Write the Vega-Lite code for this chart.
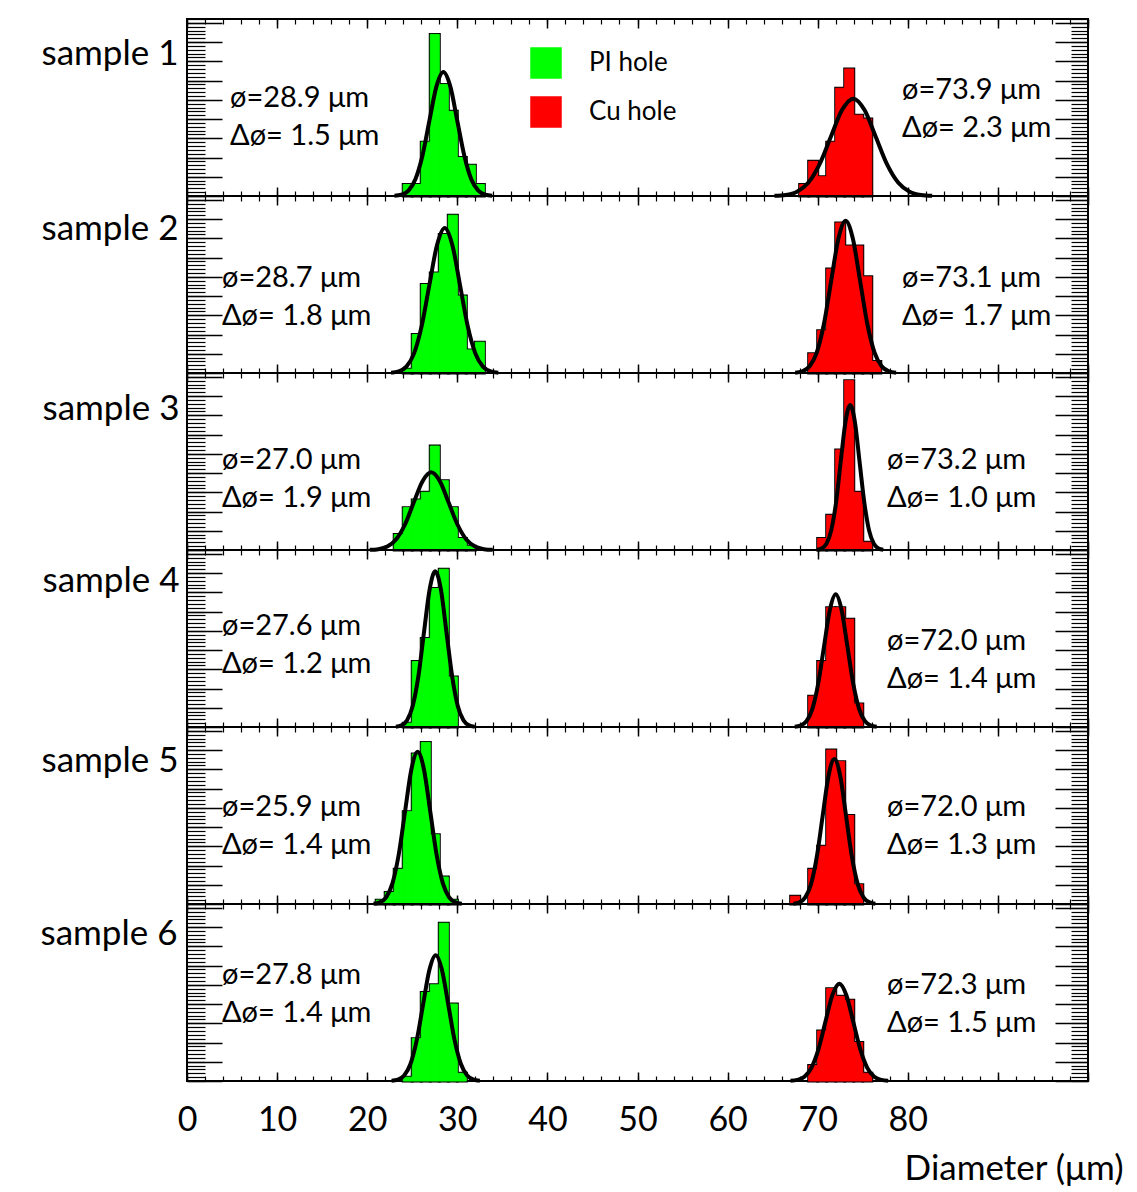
{
"$schema": "https://vega.github.io/schema/vega-lite/v6.json",
"background": "white",
"padding": {"left": 39, "top": 17, "right": 5, "bottom": 5},
"spacing": 0,
"bounds": "flush",
"resolve": {"scale": {"color": "independent", "stroke": "independent"}},
"config": {
  "font": "Lato",
  "view": {"stroke": "black", "strokeWidth": 2},
  "axis": {"domain": false, "grid": false, "tickColor": "black", "tickWidth": 1.2, "labels": false, "labelColor": "black", "titleColor": "black", "labelFont": "Lato", "titleFont": "Lato", "titleFontWeight": "normal"},
  "text": {"font": "Lato", "fontSize": 29, "color": "black"}
},
"datasets": {
  "bars": [
    {"s":1,"h":"PI hole","lo":24,"hi":25,"n":3},{"s":1,"h":"PI hole","lo":25,"hi":26,"n":3},{"s":1,"h":"PI hole","lo":26,"hi":27,"n":14},{"s":1,"h":"PI hole","lo":27,"hi":28,"n":42},{"s":1,"h":"PI hole","lo":28,"hi":29,"n":29},{"s":1,"h":"PI hole","lo":29,"hi":30,"n":22},{"s":1,"h":"PI hole","lo":30,"hi":31,"n":10},{"s":1,"h":"PI hole","lo":31,"hi":32,"n":8},{"s":1,"h":"PI hole","lo":32,"hi":33,"n":3},
    {"s":1,"h":"Cu hole","lo":68,"hi":69,"n":3},{"s":1,"h":"Cu hole","lo":69,"hi":70,"n":9},{"s":1,"h":"Cu hole","lo":70,"hi":71,"n":5},{"s":1,"h":"Cu hole","lo":71,"hi":72,"n":14},{"s":1,"h":"Cu hole","lo":72,"hi":73,"n":28},{"s":1,"h":"Cu hole","lo":73,"hi":74,"n":33},{"s":1,"h":"Cu hole","lo":74,"hi":75,"n":21},{"s":1,"h":"Cu hole","lo":75,"hi":76,"n":20},
    {"s":2,"h":"PI hole","lo":24,"hi":25,"n":1},{"s":2,"h":"PI hole","lo":25,"hi":26,"n":10},{"s":2,"h":"PI hole","lo":26,"hi":27,"n":23},{"s":2,"h":"PI hole","lo":27,"hi":28,"n":26},{"s":2,"h":"PI hole","lo":28,"hi":29,"n":36},{"s":2,"h":"PI hole","lo":29,"hi":30,"n":41},{"s":2,"h":"PI hole","lo":30,"hi":31,"n":20},{"s":2,"h":"PI hole","lo":31,"hi":32,"n":6},{"s":2,"h":"PI hole","lo":32,"hi":33,"n":8},
    {"s":2,"h":"Cu hole","lo":69,"hi":70,"n":5},{"s":2,"h":"Cu hole","lo":70,"hi":71,"n":11},{"s":2,"h":"Cu hole","lo":71,"hi":72,"n":27},{"s":2,"h":"Cu hole","lo":72,"hi":73,"n":39},{"s":2,"h":"Cu hole","lo":73,"hi":74,"n":33},{"s":2,"h":"Cu hole","lo":74,"hi":75,"n":33},{"s":2,"h":"Cu hole","lo":75,"hi":76,"n":25},{"s":2,"h":"Cu hole","lo":76,"hi":77,"n":3},
    {"s":3,"h":"PI hole","lo":23,"hi":24,"n":4},{"s":3,"h":"PI hole","lo":24,"hi":25,"n":11},{"s":3,"h":"PI hole","lo":25,"hi":26,"n":13},{"s":3,"h":"PI hole","lo":26,"hi":27,"n":15},{"s":3,"h":"PI hole","lo":27,"hi":28,"n":27},{"s":3,"h":"PI hole","lo":28,"hi":29,"n":18},{"s":3,"h":"PI hole","lo":29,"hi":30,"n":11},{"s":3,"h":"PI hole","lo":30,"hi":31,"n":3},{"s":3,"h":"PI hole","lo":31,"hi":32,"n":1},
    {"s":3,"h":"Cu hole","lo":70,"hi":71,"n":3},{"s":3,"h":"Cu hole","lo":71,"hi":72,"n":9},{"s":3,"h":"Cu hole","lo":72,"hi":73,"n":26},{"s":3,"h":"Cu hole","lo":73,"hi":74,"n":44},{"s":3,"h":"Cu hole","lo":74,"hi":75,"n":15},{"s":3,"h":"Cu hole","lo":75,"hi":76,"n":2},
    {"s":4,"h":"PI hole","lo":24,"hi":25,"n":1},{"s":4,"h":"PI hole","lo":25,"hi":26,"n":17},{"s":4,"h":"PI hole","lo":26,"hi":27,"n":23},{"s":4,"h":"PI hole","lo":27,"hi":28,"n":36},{"s":4,"h":"PI hole","lo":28,"hi":29,"n":41},{"s":4,"h":"PI hole","lo":29,"hi":30,"n":13},
    {"s":4,"h":"Cu hole","lo":69,"hi":70,"n":8},{"s":4,"h":"Cu hole","lo":70,"hi":71,"n":17},{"s":4,"h":"Cu hole","lo":71,"hi":72,"n":31},{"s":4,"h":"Cu hole","lo":72,"hi":73,"n":31},{"s":4,"h":"Cu hole","lo":73,"hi":74,"n":28},{"s":4,"h":"Cu hole","lo":74,"hi":75,"n":6},
    {"s":5,"h":"PI hole","lo":21,"hi":22,"n":1},{"s":5,"h":"PI hole","lo":22,"hi":23,"n":3},{"s":5,"h":"PI hole","lo":23,"hi":24,"n":9},{"s":5,"h":"PI hole","lo":24,"hi":25,"n":24},{"s":5,"h":"PI hole","lo":25,"hi":26,"n":39},{"s":5,"h":"PI hole","lo":26,"hi":27,"n":42},{"s":5,"h":"PI hole","lo":27,"hi":28,"n":18},{"s":5,"h":"PI hole","lo":28,"hi":29,"n":7},{"s":5,"h":"PI hole","lo":29,"hi":30,"n":1},
    {"s":5,"h":"Cu hole","lo":67,"hi":68,"n":2},{"s":5,"h":"Cu hole","lo":69,"hi":70,"n":9},{"s":5,"h":"Cu hole","lo":70,"hi":71,"n":15},{"s":5,"h":"Cu hole","lo":71,"hi":72,"n":40},{"s":5,"h":"Cu hole","lo":72,"hi":73,"n":37},{"s":5,"h":"Cu hole","lo":73,"hi":74,"n":23},{"s":5,"h":"Cu hole","lo":74,"hi":75,"n":5},
    {"s":6,"h":"PI hole","lo":24,"hi":25,"n":1},{"s":6,"h":"PI hole","lo":25,"hi":26,"n":11},{"s":6,"h":"PI hole","lo":26,"hi":27,"n":23},{"s":6,"h":"PI hole","lo":27,"hi":28,"n":25},{"s":6,"h":"PI hole","lo":28,"hi":29,"n":41},{"s":6,"h":"PI hole","lo":29,"hi":30,"n":20},{"s":6,"h":"PI hole","lo":30,"hi":31,"n":2},
    {"s":6,"h":"Cu hole","lo":69,"hi":70,"n":4},{"s":6,"h":"Cu hole","lo":70,"hi":71,"n":13},{"s":6,"h":"Cu hole","lo":71,"hi":72,"n":24},{"s":6,"h":"Cu hole","lo":72,"hi":73,"n":22},{"s":6,"h":"Cu hole","lo":73,"hi":74,"n":21},{"s":6,"h":"Cu hole","lo":74,"hi":75,"n":10},{"s":6,"h":"Cu hole","lo":75,"hi":76,"n":2}
  ],
  "fits": [
    {"s":1,"h":"PI hole","d":23.03,"n":0.07},{"s":1,"h":"PI hole","d":23.8,"n":0.36},{"s":1,"h":"PI hole","d":24.58,"n":1.41},{"s":1,"h":"PI hole","d":25.35,"n":4.36},{"s":1,"h":"PI hole","d":26.13,"n":10.46},{"s":1,"h":"PI hole","d":26.9,"n":19.53},{"s":1,"h":"PI hole","d":27.68,"n":28.42},{"s":1,"h":"PI hole","d":28.45,"n":32.2},{"s":1,"h":"PI hole","d":29.23,"n":28.42},{"s":1,"h":"PI hole","d":30.0,"n":19.53},{"s":1,"h":"PI hole","d":30.78,"n":10.46},{"s":1,"h":"PI hole","d":31.55,"n":4.36},{"s":1,"h":"PI hole","d":32.33,"n":1.41},{"s":1,"h":"PI hole","d":33.1,"n":0.36},{"s":1,"h":"PI hole","d":33.88,"n":0.07},
    {"s":1,"h":"Cu hole","d":65.2,"n":0.06},{"s":1,"h":"Cu hole","d":66.45,"n":0.28},{"s":1,"h":"Cu hole","d":67.7,"n":1.11},{"s":1,"h":"Cu hole","d":68.95,"n":3.42},{"s":1,"h":"Cu hole","d":70.2,"n":8.21},{"s":1,"h":"Cu hole","d":71.45,"n":15.34},{"s":1,"h":"Cu hole","d":72.7,"n":22.33},{"s":1,"h":"Cu hole","d":73.95,"n":25.3},{"s":1,"h":"Cu hole","d":75.2,"n":22.33},{"s":1,"h":"Cu hole","d":76.45,"n":15.34},{"s":1,"h":"Cu hole","d":77.7,"n":8.21},{"s":1,"h":"Cu hole","d":78.95,"n":3.42},{"s":1,"h":"Cu hole","d":80.2,"n":1.11},{"s":1,"h":"Cu hole","d":81.45,"n":0.28},{"s":1,"h":"Cu hole","d":82.7,"n":0.06},
    {"s":2,"h":"PI hole","d":22.65,"n":0.08},{"s":2,"h":"PI hole","d":23.5,"n":0.42},{"s":2,"h":"PI hole","d":24.35,"n":1.66},{"s":2,"h":"PI hole","d":25.2,"n":5.1},{"s":2,"h":"PI hole","d":26.05,"n":12.24},{"s":2,"h":"PI hole","d":26.9,"n":22.87},{"s":2,"h":"PI hole","d":27.75,"n":33.27},{"s":2,"h":"PI hole","d":28.6,"n":37.7},{"s":2,"h":"PI hole","d":29.45,"n":33.27},{"s":2,"h":"PI hole","d":30.3,"n":22.87},{"s":2,"h":"PI hole","d":31.15,"n":12.24},{"s":2,"h":"PI hole","d":32.0,"n":5.1},{"s":2,"h":"PI hole","d":32.85,"n":1.66},{"s":2,"h":"PI hole","d":33.7,"n":0.42},{"s":2,"h":"PI hole","d":34.55,"n":0.08},
    {"s":2,"h":"Cu hole","d":67.5,"n":0.09},{"s":2,"h":"Cu hole","d":68.3,"n":0.44},{"s":2,"h":"Cu hole","d":69.1,"n":1.74},{"s":2,"h":"Cu hole","d":69.9,"n":5.36},{"s":2,"h":"Cu hole","d":70.7,"n":12.86},{"s":2,"h":"Cu hole","d":71.5,"n":24.02},{"s":2,"h":"Cu hole","d":72.3,"n":34.95},{"s":2,"h":"Cu hole","d":73.1,"n":39.6},{"s":2,"h":"Cu hole","d":73.9,"n":34.95},{"s":2,"h":"Cu hole","d":74.7,"n":24.02},{"s":2,"h":"Cu hole","d":75.5,"n":12.86},{"s":2,"h":"Cu hole","d":76.3,"n":5.36},{"s":2,"h":"Cu hole","d":77.1,"n":1.74},{"s":2,"h":"Cu hole","d":77.9,"n":0.44},{"s":2,"h":"Cu hole","d":78.7,"n":0.09},
    {"s":3,"h":"PI hole","d":20.28,"n":0.04},{"s":3,"h":"PI hole","d":21.25,"n":0.22},{"s":3,"h":"PI hole","d":22.23,"n":0.89},{"s":3,"h":"PI hole","d":23.2,"n":2.73},{"s":3,"h":"PI hole","d":24.18,"n":6.56},{"s":3,"h":"PI hole","d":25.15,"n":12.25},{"s":3,"h":"PI hole","d":26.13,"n":17.83},{"s":3,"h":"PI hole","d":27.1,"n":20.2},{"s":3,"h":"PI hole","d":28.08,"n":17.83},{"s":3,"h":"PI hole","d":29.05,"n":12.25},{"s":3,"h":"PI hole","d":30.03,"n":6.56},{"s":3,"h":"PI hole","d":31.0,"n":2.73},{"s":3,"h":"PI hole","d":31.98,"n":0.89},{"s":3,"h":"PI hole","d":32.95,"n":0.22},{"s":3,"h":"PI hole","d":33.93,"n":0.04},
    {"s":3,"h":"Cu hole","d":69.93,"n":0.08},{"s":3,"h":"Cu hole","d":70.45,"n":0.42},{"s":3,"h":"Cu hole","d":70.98,"n":1.66},{"s":3,"h":"Cu hole","d":71.5,"n":5.1},{"s":3,"h":"Cu hole","d":72.03,"n":12.24},{"s":3,"h":"Cu hole","d":72.55,"n":22.87},{"s":3,"h":"Cu hole","d":73.08,"n":33.27},{"s":3,"h":"Cu hole","d":73.6,"n":37.7},{"s":3,"h":"Cu hole","d":74.13,"n":33.27},{"s":3,"h":"Cu hole","d":74.65,"n":22.87},{"s":3,"h":"Cu hole","d":75.18,"n":12.24},{"s":3,"h":"Cu hole","d":75.7,"n":5.1},{"s":3,"h":"Cu hole","d":76.23,"n":1.66},{"s":3,"h":"Cu hole","d":76.75,"n":0.42},{"s":3,"h":"Cu hole","d":77.28,"n":0.08},
    {"s":4,"h":"PI hole","d":23.18,"n":0.09},{"s":4,"h":"PI hole","d":23.8,"n":0.45},{"s":4,"h":"PI hole","d":24.43,"n":1.78},{"s":4,"h":"PI hole","d":25.05,"n":5.48},{"s":4,"h":"PI hole","d":25.68,"n":13.15},{"s":4,"h":"PI hole","d":26.3,"n":24.56},{"s":4,"h":"PI hole","d":26.93,"n":35.74},{"s":4,"h":"PI hole","d":27.55,"n":40.5},{"s":4,"h":"PI hole","d":28.18,"n":35.74},{"s":4,"h":"PI hole","d":28.8,"n":24.56},{"s":4,"h":"PI hole","d":29.43,"n":13.15},{"s":4,"h":"PI hole","d":30.05,"n":5.48},{"s":4,"h":"PI hole","d":30.68,"n":1.78},{"s":4,"h":"PI hole","d":31.3,"n":0.45},{"s":4,"h":"PI hole","d":31.93,"n":0.09},
    {"s":4,"h":"Cu hole","d":67.45,"n":0.08},{"s":4,"h":"Cu hole","d":68.1,"n":0.38},{"s":4,"h":"Cu hole","d":68.75,"n":1.51},{"s":4,"h":"Cu hole","d":69.4,"n":4.67},{"s":4,"h":"Cu hole","d":70.05,"n":11.2},{"s":4,"h":"Cu hole","d":70.7,"n":20.92},{"s":4,"h":"Cu hole","d":71.35,"n":30.45},{"s":4,"h":"Cu hole","d":72.0,"n":34.5},{"s":4,"h":"Cu hole","d":72.65,"n":30.45},{"s":4,"h":"Cu hole","d":73.3,"n":20.92},{"s":4,"h":"Cu hole","d":73.95,"n":11.2},{"s":4,"h":"Cu hole","d":74.6,"n":4.67},{"s":4,"h":"Cu hole","d":75.25,"n":1.51},{"s":4,"h":"Cu hole","d":75.9,"n":0.38},{"s":4,"h":"Cu hole","d":76.55,"n":0.08},
    {"s":5,"h":"PI hole","d":20.7,"n":0.09},{"s":5,"h":"PI hole","d":21.4,"n":0.44},{"s":5,"h":"PI hole","d":22.1,"n":1.74},{"s":5,"h":"PI hole","d":22.8,"n":5.36},{"s":5,"h":"PI hole","d":23.5,"n":12.86},{"s":5,"h":"PI hole","d":24.2,"n":24.02},{"s":5,"h":"PI hole","d":24.9,"n":34.95},{"s":5,"h":"PI hole","d":25.6,"n":39.6},{"s":5,"h":"PI hole","d":26.3,"n":34.95},{"s":5,"h":"PI hole","d":27.0,"n":24.02},{"s":5,"h":"PI hole","d":27.7,"n":12.86},{"s":5,"h":"PI hole","d":28.4,"n":5.36},{"s":5,"h":"PI hole","d":29.1,"n":1.74},{"s":5,"h":"PI hole","d":29.8,"n":0.44},{"s":5,"h":"PI hole","d":30.5,"n":0.09},
    {"s":5,"h":"Cu hole","d":67.3,"n":0.08},{"s":5,"h":"Cu hole","d":67.95,"n":0.42},{"s":5,"h":"Cu hole","d":68.6,"n":1.66},{"s":5,"h":"Cu hole","d":69.25,"n":5.1},{"s":5,"h":"Cu hole","d":69.9,"n":12.24},{"s":5,"h":"Cu hole","d":70.55,"n":22.87},{"s":5,"h":"Cu hole","d":71.2,"n":33.27},{"s":5,"h":"Cu hole","d":71.85,"n":37.7},{"s":5,"h":"Cu hole","d":72.5,"n":33.27},{"s":5,"h":"Cu hole","d":73.15,"n":22.87},{"s":5,"h":"Cu hole","d":73.8,"n":12.24},{"s":5,"h":"Cu hole","d":74.45,"n":5.1},{"s":5,"h":"Cu hole","d":75.1,"n":1.66},{"s":5,"h":"Cu hole","d":75.75,"n":0.42},{"s":5,"h":"Cu hole","d":76.4,"n":0.08},
    {"s":6,"h":"PI hole","d":22.7,"n":0.07},{"s":6,"h":"PI hole","d":23.4,"n":0.36},{"s":6,"h":"PI hole","d":24.1,"n":1.44},{"s":6,"h":"PI hole","d":24.8,"n":4.42},{"s":6,"h":"PI hole","d":25.5,"n":10.62},{"s":6,"h":"PI hole","d":26.2,"n":19.83},{"s":6,"h":"PI hole","d":26.9,"n":28.86},{"s":6,"h":"PI hole","d":27.6,"n":32.7},{"s":6,"h":"PI hole","d":28.3,"n":28.86},{"s":6,"h":"PI hole","d":29.0,"n":19.83},{"s":6,"h":"PI hole","d":29.7,"n":10.62},{"s":6,"h":"PI hole","d":30.4,"n":4.42},{"s":6,"h":"PI hole","d":31.1,"n":1.44},{"s":6,"h":"PI hole","d":31.8,"n":0.36},{"s":6,"h":"PI hole","d":32.5,"n":0.07},
    {"s":6,"h":"Cu hole","d":66.98,"n":0.06},{"s":6,"h":"Cu hole","d":67.75,"n":0.28},{"s":6,"h":"Cu hole","d":68.53,"n":1.11},{"s":6,"h":"Cu hole","d":69.3,"n":3.42},{"s":6,"h":"Cu hole","d":70.08,"n":8.21},{"s":6,"h":"Cu hole","d":70.85,"n":15.34},{"s":6,"h":"Cu hole","d":71.63,"n":22.33},{"s":6,"h":"Cu hole","d":72.4,"n":25.3},{"s":6,"h":"Cu hole","d":73.18,"n":22.33},{"s":6,"h":"Cu hole","d":73.95,"n":15.34},{"s":6,"h":"Cu hole","d":74.73,"n":8.21},{"s":6,"h":"Cu hole","d":75.5,"n":3.42},{"s":6,"h":"Cu hole","d":76.28,"n":1.11},{"s":6,"h":"Cu hole","d":77.05,"n":0.28},{"s":6,"h":"Cu hole","d":77.83,"n":0.06}
  ],
  "notes": [
    {"s":1,"h":"PI hole","t":"ø=28.9 μm|Δø= 1.5 μm"},{"s":1,"h":"Cu hole","t":"ø=73.9 μm|Δø= 2.3 μm"},
    {"s":2,"h":"PI hole","t":"ø=28.7 μm|Δø= 1.8 μm"},{"s":2,"h":"Cu hole","t":"ø=73.1 μm|Δø= 1.7 μm"},
    {"s":3,"h":"PI hole","t":"ø=27.0 μm|Δø= 1.9 μm"},{"s":3,"h":"Cu hole","t":"ø=73.2 μm|Δø= 1.0 μm"},
    {"s":4,"h":"PI hole","t":"ø=27.6 μm|Δø= 1.2 μm"},{"s":4,"h":"Cu hole","t":"ø=72.0 μm|Δø= 1.4 μm"},
    {"s":5,"h":"PI hole","t":"ø=25.9 μm|Δø= 1.4 μm"},{"s":5,"h":"Cu hole","t":"ø=72.0 μm|Δø= 1.3 μm"},
    {"s":6,"h":"PI hole","t":"ø=27.8 μm|Δø= 1.4 μm"},{"s":6,"h":"Cu hole","t":"ø=72.3 μm|Δø= 1.5 μm"}
  ]
},
"vconcat": [
{
 "width": 901, "height": 177,
 "resolve": {"axis": {"x": "independent", "y": "independent"}},
 "layer": [
  {"data": {"name": "bars"}, "transform": [{"filter": "datum.s == 1"}],
   "mark": {"type": "rect", "color": "black", "stroke": "black", "strokeWidth": 3},
   "encoding": {
    "x": {"field": "lo", "type": "quantitative", "scale": {"domain": [0, 100], "nice": false, "zero": false}, "axis": {"orient": "bottom", "values": [0,10,20,30,40,50,60,70,80,90,100], "tickSize": -9, "tickWidth": 1.5, "title": null}},
    "x2": {"field": "hi"},
    "y": {"field": "n", "type": "quantitative", "scale": {"domain": [0, 46], "nice": false}, "axis": {"orient": "left", "values": [0,5,10,15,20,25,30,35,40,45], "tickSize": -35, "tickWidth": 1.5, "title": "sample 1", "titleAngle": 0, "titleAlign": "right", "titleBaseline": "middle", "titleX": -9, "titleY": 34, "titleFontSize": 35}},
    "y2": {"datum": 0}}},
  {"data": {"name": "bars"}, "transform": [{"filter": "datum.s == 1"}],
   "mark": {"type": "rect", "strokeWidth": 1},
   "encoding": {
    "x": {"field": "lo", "type": "quantitative", "scale": {"domain": [0, 100], "nice": false, "zero": false}, "axis": {"orient": "bottom", "values": [0,2,4,6,8,10,12,14,16,18,20,22,24,26,28,30,32,34,36,38,40,42,44,46,48,50,52,54,56,58,60,62,64,66,68,70,72,74,76,78,80,82,84,86,88,90,92,94,96,98,100], "tickSize": -5, "title": null}},
    "x2": {"field": "hi"},
    "y": {"field": "n", "type": "quantitative", "scale": {"domain": [0, 46], "nice": false}, "axis": {"orient": "left", "values": [0,1,2,3,4,5,6,7,8,9,10,11,12,13,14,15,16,17,18,19,20,21,22,23,24,25,26,27,28,29,30,31,32,33,34,35,36,37,38,39,40,41,42,43,44,45,46], "tickSize": -18, "title": null}},
    "y2": {"datum": 0},
    "stroke": {"field": "h", "type": "nominal", "scale": {"domain": ["PI hole", "Cu hole"], "range": ["#00ff00", "#ff0000"]}, "legend": null},
    "color": {"field": "h", "type": "nominal", "scale": {"domain": ["PI hole", "Cu hole"], "range": ["#00ff00", "#ff0000"]},
      "legend": {"orient": "none", "legendX": 343, "legendY": 28, "title": null, "symbolType": "square", "symbolSize": 900, "symbolStrokeColor": "black", "symbolStrokeWidth": 1.5, "symbolOpacity": 1, "labelFontSize": 26, "labelFont": "Lato", "labelColor": "black", "labelOffset": 27, "rowPadding": 13}}}},
  {"data": {"name": "fits"}, "transform": [{"filter": "datum.s == 1"}],
   "mark": {"type": "line", "color": "black", "strokeWidth": 4, "interpolate": "monotone"},
   "encoding": {
    "x": {"field": "d", "type": "quantitative", "scale": {"domain": [0, 100], "nice": false, "zero": false}, "axis": {"orient": "top", "values": [0,10,20,30,40,50,60,70,80,90,100], "tickSize": -9, "tickWidth": 1.5, "title": null}},
    "y": {"field": "n", "type": "quantitative", "scale": {"domain": [0, 46], "nice": false}, "axis": {"orient": "right", "values": [0,5,10,15,20,25,30,35,40,45], "tickSize": -33, "tickWidth": 1.5, "title": null}},
    "detail": {"field": "h"}}},
  {"data": {"name": "notes"}, "transform": [{"filter": "datum.s == 1 && datum.h == 'PI hole'"}],
   "mark": {"type": "text", "align": "left", "baseline": "middle", "lineBreak": "|", "lineHeight": 38},
   "encoding": {
    "x": {"datum": 4.77, "type": "quantitative", "axis": {"orient": "top", "values": [0,2,4,6,8,10,12,14,16,18,20,22,24,26,28,30,32,34,36,38,40,42,44,46,48,50,52,54,56,58,60,62,64,66,68,70,72,74,76,78,80,82,84,86,88,90,92,94,96,98,100], "tickSize": -5, "title": null}},
    "y": {"datum": 25.44, "type": "quantitative", "axis": {"orient": "right", "values": [0,1,2,3,4,5,6,7,8,9,10,11,12,13,14,15,16,17,18,19,20,21,22,23,24,25,26,27,28,29,30,31,32,33,34,35,36,37,38,39,40,41,42,43,44,45,46], "tickSize": -17, "title": null}},
    "text": {"field": "t"}}},
  {"data": {"name": "notes"}, "transform": [{"filter": "datum.s == 1 && datum.h == 'Cu hole'"}],
   "mark": {"type": "text", "align": "left", "baseline": "middle", "lineBreak": "|", "lineHeight": 38},
   "encoding": {
    "x": {"datum": 79.36, "type": "quantitative", "axis": null},
    "y": {"datum": 27.54, "type": "quantitative", "axis": null},
    "text": {"field": "t"}}}
 ]
},
{
 "width": 901, "height": 177,
 "resolve": {"axis": {"x": "independent", "y": "independent"}},
 "layer": [
  {"data": {"name": "bars"}, "transform": [{"filter": "datum.s == 2"}],
   "mark": {"type": "rect", "color": "black", "stroke": "black", "strokeWidth": 3},
   "encoding": {
    "x": {"field": "lo", "type": "quantitative", "scale": {"domain": [0, 100], "nice": false, "zero": false}, "axis": {"orient": "bottom", "values": [0,10,20,30,40,50,60,70,80,90,100], "tickSize": -9, "tickWidth": 1.5, "title": null}},
    "x2": {"field": "hi"},
    "y": {"field": "n", "type": "quantitative", "scale": {"domain": [0, 46], "nice": false}, "axis": {"orient": "left", "values": [0,5,10,15,20,25,30,35,40,45], "tickSize": -35, "tickWidth": 1.5, "title": "sample 2", "titleAngle": 0, "titleAlign": "right", "titleBaseline": "middle", "titleX": -9, "titleY": 32, "titleFontSize": 35}},
    "y2": {"datum": 0}}},
  {"data": {"name": "bars"}, "transform": [{"filter": "datum.s == 2"}],
   "mark": {"type": "rect", "strokeWidth": 1},
   "encoding": {
    "x": {"field": "lo", "type": "quantitative", "scale": {"domain": [0, 100], "nice": false, "zero": false}, "axis": {"orient": "bottom", "values": [0,2,4,6,8,10,12,14,16,18,20,22,24,26,28,30,32,34,36,38,40,42,44,46,48,50,52,54,56,58,60,62,64,66,68,70,72,74,76,78,80,82,84,86,88,90,92,94,96,98,100], "tickSize": -5, "title": null}},
    "x2": {"field": "hi"},
    "y": {"field": "n", "type": "quantitative", "scale": {"domain": [0, 46], "nice": false}, "axis": {"orient": "left", "values": [0,1,2,3,4,5,6,7,8,9,10,11,12,13,14,15,16,17,18,19,20,21,22,23,24,25,26,27,28,29,30,31,32,33,34,35,36,37,38,39,40,41,42,43,44,45,46], "tickSize": -18, "title": null}},
    "y2": {"datum": 0},
    "stroke": {"field": "h", "type": "nominal", "scale": {"domain": ["PI hole", "Cu hole"], "range": ["#00ff00", "#ff0000"]}, "legend": null},
    "color": {"field": "h", "type": "nominal", "scale": {"domain": ["PI hole", "Cu hole"], "range": ["#00ff00", "#ff0000"]}, "legend": null}}},
  {"data": {"name": "fits"}, "transform": [{"filter": "datum.s == 2"}],
   "mark": {"type": "line", "color": "black", "strokeWidth": 4, "interpolate": "monotone"},
   "encoding": {
    "x": {"field": "d", "type": "quantitative", "scale": {"domain": [0, 100], "nice": false, "zero": false}, "axis": {"orient": "top", "values": [0,10,20,30,40,50,60,70,80,90,100], "tickSize": -9, "tickWidth": 1.5, "title": null}},
    "y": {"field": "n", "type": "quantitative", "scale": {"domain": [0, 46], "nice": false}, "axis": {"orient": "right", "values": [0,5,10,15,20,25,30,35,40,45], "tickSize": -33, "tickWidth": 1.5, "title": null}},
    "detail": {"field": "h"}}},
  {"data": {"name": "notes"}, "transform": [{"filter": "datum.s == 2 && datum.h == 'PI hole'"}],
   "mark": {"type": "text", "align": "left", "baseline": "middle", "lineBreak": "|", "lineHeight": 38},
   "encoding": {
    "x": {"datum": 3.88, "type": "quantitative", "axis": {"orient": "top", "values": [0,2,4,6,8,10,12,14,16,18,20,22,24,26,28,30,32,34,36,38,40,42,44,46,48,50,52,54,56,58,60,62,64,66,68,70,72,74,76,78,80,82,84,86,88,90,92,94,96,98,100], "tickSize": -5, "title": null}},
    "y": {"datum": 24.74, "type": "quantitative", "axis": {"orient": "right", "values": [0,1,2,3,4,5,6,7,8,9,10,11,12,13,14,15,16,17,18,19,20,21,22,23,24,25,26,27,28,29,30,31,32,33,34,35,36,37,38,39,40,41,42,43,44,45,46], "tickSize": -17, "title": null}},
    "text": {"field": "t"}}},
  {"data": {"name": "notes"}, "transform": [{"filter": "datum.s == 2 && datum.h == 'Cu hole'"}],
   "mark": {"type": "text", "align": "left", "baseline": "middle", "lineBreak": "|", "lineHeight": 38},
   "encoding": {
    "x": {"datum": 79.36, "type": "quantitative", "axis": null},
    "y": {"datum": 24.74, "type": "quantitative", "axis": null},
    "text": {"field": "t"}}}
 ]
},
{
 "width": 901, "height": 177,
 "resolve": {"axis": {"x": "independent", "y": "independent"}},
 "layer": [
  {"data": {"name": "bars"}, "transform": [{"filter": "datum.s == 3"}],
   "mark": {"type": "rect", "color": "black", "stroke": "black", "strokeWidth": 3},
   "encoding": {
    "x": {"field": "lo", "type": "quantitative", "scale": {"domain": [0, 100], "nice": false, "zero": false}, "axis": {"orient": "bottom", "values": [0,10,20,30,40,50,60,70,80,90,100], "tickSize": -9, "tickWidth": 1.5, "title": null}},
    "x2": {"field": "hi"},
    "y": {"field": "n", "type": "quantitative", "scale": {"domain": [0, 46], "nice": false}, "axis": {"orient": "left", "values": [0,5,10,15,20,25,30,35,40,45], "tickSize": -35, "tickWidth": 1.5, "title": "sample 3", "titleAngle": 0, "titleAlign": "right", "titleBaseline": "middle", "titleX": -8, "titleY": 35, "titleFontSize": 35}},
    "y2": {"datum": 0}}},
  {"data": {"name": "bars"}, "transform": [{"filter": "datum.s == 3"}],
   "mark": {"type": "rect", "strokeWidth": 1},
   "encoding": {
    "x": {"field": "lo", "type": "quantitative", "scale": {"domain": [0, 100], "nice": false, "zero": false}, "axis": {"orient": "bottom", "values": [0,2,4,6,8,10,12,14,16,18,20,22,24,26,28,30,32,34,36,38,40,42,44,46,48,50,52,54,56,58,60,62,64,66,68,70,72,74,76,78,80,82,84,86,88,90,92,94,96,98,100], "tickSize": -5, "title": null}},
    "x2": {"field": "hi"},
    "y": {"field": "n", "type": "quantitative", "scale": {"domain": [0, 46], "nice": false}, "axis": {"orient": "left", "values": [0,1,2,3,4,5,6,7,8,9,10,11,12,13,14,15,16,17,18,19,20,21,22,23,24,25,26,27,28,29,30,31,32,33,34,35,36,37,38,39,40,41,42,43,44,45,46], "tickSize": -18, "title": null}},
    "y2": {"datum": 0},
    "stroke": {"field": "h", "type": "nominal", "scale": {"domain": ["PI hole", "Cu hole"], "range": ["#00ff00", "#ff0000"]}, "legend": null},
    "color": {"field": "h", "type": "nominal", "scale": {"domain": ["PI hole", "Cu hole"], "range": ["#00ff00", "#ff0000"]}, "legend": null}}},
  {"data": {"name": "fits"}, "transform": [{"filter": "datum.s == 3"}],
   "mark": {"type": "line", "color": "black", "strokeWidth": 4, "interpolate": "monotone"},
   "encoding": {
    "x": {"field": "d", "type": "quantitative", "scale": {"domain": [0, 100], "nice": false, "zero": false}, "axis": {"orient": "top", "values": [0,10,20,30,40,50,60,70,80,90,100], "tickSize": -9, "tickWidth": 1.5, "title": null}},
    "y": {"field": "n", "type": "quantitative", "scale": {"domain": [0, 46], "nice": false}, "axis": {"orient": "right", "values": [0,5,10,15,20,25,30,35,40,45], "tickSize": -33, "tickWidth": 1.5, "title": null}},
    "detail": {"field": "h"}}},
  {"data": {"name": "notes"}, "transform": [{"filter": "datum.s == 3 && datum.h == 'PI hole'"}],
   "mark": {"type": "text", "align": "left", "baseline": "middle", "lineBreak": "|", "lineHeight": 38},
   "encoding": {
    "x": {"datum": 3.88, "type": "quantitative", "axis": {"orient": "top", "values": [0,2,4,6,8,10,12,14,16,18,20,22,24,26,28,30,32,34,36,38,40,42,44,46,48,50,52,54,56,58,60,62,64,66,68,70,72,74,76,78,80,82,84,86,88,90,92,94,96,98,100], "tickSize": -5, "title": null}},
    "y": {"datum": 23.44, "type": "quantitative", "axis": {"orient": "right", "values": [0,1,2,3,4,5,6,7,8,9,10,11,12,13,14,15,16,17,18,19,20,21,22,23,24,25,26,27,28,29,30,31,32,33,34,35,36,37,38,39,40,41,42,43,44,45,46], "tickSize": -17, "title": null}},
    "text": {"field": "t"}}},
  {"data": {"name": "notes"}, "transform": [{"filter": "datum.s == 3 && datum.h == 'Cu hole'"}],
   "mark": {"type": "text", "align": "left", "baseline": "middle", "lineBreak": "|", "lineHeight": 38},
   "encoding": {
    "x": {"datum": 77.69, "type": "quantitative", "axis": null},
    "y": {"datum": 23.44, "type": "quantitative", "axis": null},
    "text": {"field": "t"}}}
 ]
},
{
 "width": 901, "height": 177,
 "resolve": {"axis": {"x": "independent", "y": "independent"}},
 "layer": [
  {"data": {"name": "bars"}, "transform": [{"filter": "datum.s == 4"}],
   "mark": {"type": "rect", "color": "black", "stroke": "black", "strokeWidth": 3},
   "encoding": {
    "x": {"field": "lo", "type": "quantitative", "scale": {"domain": [0, 100], "nice": false, "zero": false}, "axis": {"orient": "bottom", "values": [0,10,20,30,40,50,60,70,80,90,100], "tickSize": -9, "tickWidth": 1.5, "title": null}},
    "x2": {"field": "hi"},
    "y": {"field": "n", "type": "quantitative", "scale": {"domain": [0, 46], "nice": false}, "axis": {"orient": "left", "values": [0,5,10,15,20,25,30,35,40,45], "tickSize": -35, "tickWidth": 1.5, "title": "sample 4", "titleAngle": 0, "titleAlign": "right", "titleBaseline": "middle", "titleX": -8, "titleY": 30, "titleFontSize": 35}},
    "y2": {"datum": 0}}},
  {"data": {"name": "bars"}, "transform": [{"filter": "datum.s == 4"}],
   "mark": {"type": "rect", "strokeWidth": 1},
   "encoding": {
    "x": {"field": "lo", "type": "quantitative", "scale": {"domain": [0, 100], "nice": false, "zero": false}, "axis": {"orient": "bottom", "values": [0,2,4,6,8,10,12,14,16,18,20,22,24,26,28,30,32,34,36,38,40,42,44,46,48,50,52,54,56,58,60,62,64,66,68,70,72,74,76,78,80,82,84,86,88,90,92,94,96,98,100], "tickSize": -5, "title": null}},
    "x2": {"field": "hi"},
    "y": {"field": "n", "type": "quantitative", "scale": {"domain": [0, 46], "nice": false}, "axis": {"orient": "left", "values": [0,1,2,3,4,5,6,7,8,9,10,11,12,13,14,15,16,17,18,19,20,21,22,23,24,25,26,27,28,29,30,31,32,33,34,35,36,37,38,39,40,41,42,43,44,45,46], "tickSize": -18, "title": null}},
    "y2": {"datum": 0},
    "stroke": {"field": "h", "type": "nominal", "scale": {"domain": ["PI hole", "Cu hole"], "range": ["#00ff00", "#ff0000"]}, "legend": null},
    "color": {"field": "h", "type": "nominal", "scale": {"domain": ["PI hole", "Cu hole"], "range": ["#00ff00", "#ff0000"]}, "legend": null}}},
  {"data": {"name": "fits"}, "transform": [{"filter": "datum.s == 4"}],
   "mark": {"type": "line", "color": "black", "strokeWidth": 4, "interpolate": "monotone"},
   "encoding": {
    "x": {"field": "d", "type": "quantitative", "scale": {"domain": [0, 100], "nice": false, "zero": false}, "axis": {"orient": "top", "values": [0,10,20,30,40,50,60,70,80,90,100], "tickSize": -9, "tickWidth": 1.5, "title": null}},
    "y": {"field": "n", "type": "quantitative", "scale": {"domain": [0, 46], "nice": false}, "axis": {"orient": "right", "values": [0,5,10,15,20,25,30,35,40,45], "tickSize": -33, "tickWidth": 1.5, "title": null}},
    "detail": {"field": "h"}}},
  {"data": {"name": "notes"}, "transform": [{"filter": "datum.s == 4 && datum.h == 'PI hole'"}],
   "mark": {"type": "text", "align": "left", "baseline": "middle", "lineBreak": "|", "lineHeight": 38},
   "encoding": {
    "x": {"datum": 3.88, "type": "quantitative", "axis": {"orient": "top", "values": [0,2,4,6,8,10,12,14,16,18,20,22,24,26,28,30,32,34,36,38,40,42,44,46,48,50,52,54,56,58,60,62,64,66,68,70,72,74,76,78,80,82,84,86,88,90,92,94,96,98,100], "tickSize": -5, "title": null}},
    "y": {"datum": 26.24, "type": "quantitative", "axis": {"orient": "right", "values": [0,1,2,3,4,5,6,7,8,9,10,11,12,13,14,15,16,17,18,19,20,21,22,23,24,25,26,27,28,29,30,31,32,33,34,35,36,37,38,39,40,41,42,43,44,45,46], "tickSize": -17, "title": null}},
    "text": {"field": "t"}}},
  {"data": {"name": "notes"}, "transform": [{"filter": "datum.s == 4 && datum.h == 'Cu hole'"}],
   "mark": {"type": "text", "align": "left", "baseline": "middle", "lineBreak": "|", "lineHeight": 38},
   "encoding": {
    "x": {"datum": 77.69, "type": "quantitative", "axis": null},
    "y": {"datum": 22.24, "type": "quantitative", "axis": null},
    "text": {"field": "t"}}}
 ]
},
{
 "width": 901, "height": 177,
 "resolve": {"axis": {"x": "independent", "y": "independent"}},
 "layer": [
  {"data": {"name": "bars"}, "transform": [{"filter": "datum.s == 5"}],
   "mark": {"type": "rect", "color": "black", "stroke": "black", "strokeWidth": 3},
   "encoding": {
    "x": {"field": "lo", "type": "quantitative", "scale": {"domain": [0, 100], "nice": false, "zero": false}, "axis": {"orient": "bottom", "values": [0,10,20,30,40,50,60,70,80,90,100], "tickSize": -9, "tickWidth": 1.5, "title": null}},
    "x2": {"field": "hi"},
    "y": {"field": "n", "type": "quantitative", "scale": {"domain": [0, 46], "nice": false}, "axis": {"orient": "left", "values": [0,5,10,15,20,25,30,35,40,45], "tickSize": -35, "tickWidth": 1.5, "title": "sample 5", "titleAngle": 0, "titleAlign": "right", "titleBaseline": "middle", "titleX": -9, "titleY": 33, "titleFontSize": 35}},
    "y2": {"datum": 0}}},
  {"data": {"name": "bars"}, "transform": [{"filter": "datum.s == 5"}],
   "mark": {"type": "rect", "strokeWidth": 1},
   "encoding": {
    "x": {"field": "lo", "type": "quantitative", "scale": {"domain": [0, 100], "nice": false, "zero": false}, "axis": {"orient": "bottom", "values": [0,2,4,6,8,10,12,14,16,18,20,22,24,26,28,30,32,34,36,38,40,42,44,46,48,50,52,54,56,58,60,62,64,66,68,70,72,74,76,78,80,82,84,86,88,90,92,94,96,98,100], "tickSize": -5, "title": null}},
    "x2": {"field": "hi"},
    "y": {"field": "n", "type": "quantitative", "scale": {"domain": [0, 46], "nice": false}, "axis": {"orient": "left", "values": [0,1,2,3,4,5,6,7,8,9,10,11,12,13,14,15,16,17,18,19,20,21,22,23,24,25,26,27,28,29,30,31,32,33,34,35,36,37,38,39,40,41,42,43,44,45,46], "tickSize": -18, "title": null}},
    "y2": {"datum": 0},
    "stroke": {"field": "h", "type": "nominal", "scale": {"domain": ["PI hole", "Cu hole"], "range": ["#00ff00", "#ff0000"]}, "legend": null},
    "color": {"field": "h", "type": "nominal", "scale": {"domain": ["PI hole", "Cu hole"], "range": ["#00ff00", "#ff0000"]}, "legend": null}}},
  {"data": {"name": "fits"}, "transform": [{"filter": "datum.s == 5"}],
   "mark": {"type": "line", "color": "black", "strokeWidth": 4, "interpolate": "monotone"},
   "encoding": {
    "x": {"field": "d", "type": "quantitative", "scale": {"domain": [0, 100], "nice": false, "zero": false}, "axis": {"orient": "top", "values": [0,10,20,30,40,50,60,70,80,90,100], "tickSize": -9, "tickWidth": 1.5, "title": null}},
    "y": {"field": "n", "type": "quantitative", "scale": {"domain": [0, 46], "nice": false}, "axis": {"orient": "right", "values": [0,5,10,15,20,25,30,35,40,45], "tickSize": -33, "tickWidth": 1.5, "title": null}},
    "detail": {"field": "h"}}},
  {"data": {"name": "notes"}, "transform": [{"filter": "datum.s == 5 && datum.h == 'PI hole'"}],
   "mark": {"type": "text", "align": "left", "baseline": "middle", "lineBreak": "|", "lineHeight": 38},
   "encoding": {
    "x": {"datum": 3.88, "type": "quantitative", "axis": {"orient": "top", "values": [0,2,4,6,8,10,12,14,16,18,20,22,24,26,28,30,32,34,36,38,40,42,44,46,48,50,52,54,56,58,60,62,64,66,68,70,72,74,76,78,80,82,84,86,88,90,92,94,96,98,100], "tickSize": -5, "title": null}},
    "y": {"datum": 25.24, "type": "quantitative", "axis": {"orient": "right", "values": [0,1,2,3,4,5,6,7,8,9,10,11,12,13,14,15,16,17,18,19,20,21,22,23,24,25,26,27,28,29,30,31,32,33,34,35,36,37,38,39,40,41,42,43,44,45,46], "tickSize": -17, "title": null}},
    "text": {"field": "t"}}},
  {"data": {"name": "notes"}, "transform": [{"filter": "datum.s == 5 && datum.h == 'Cu hole'"}],
   "mark": {"type": "text", "align": "left", "baseline": "middle", "lineBreak": "|", "lineHeight": 38},
   "encoding": {
    "x": {"datum": 77.69, "type": "quantitative", "axis": null},
    "y": {"datum": 25.24, "type": "quantitative", "axis": null},
    "text": {"field": "t"}}}
 ]
},
{
 "width": 901, "height": 177,
 "resolve": {"axis": {"x": "independent", "y": "independent"}},
 "layer": [
  {"data": {"name": "bars"}, "transform": [{"filter": "datum.s == 6"}],
   "mark": {"type": "rect", "color": "black", "stroke": "black", "strokeWidth": 3},
   "encoding": {
    "x": {"field": "lo", "type": "quantitative", "scale": {"domain": [0, 100], "nice": false, "zero": false}, "axis": {"orient": "bottom", "values": [0,10,20,30,40,50,60,70,80,90,100], "tickSize": -9, "tickWidth": 1.5, "labels": true, "labelExpr": "datum.value <= 80 ? datum.label : ''", "labelFontSize": 34, "labelPadding": 31, "labelFlush": false, "title": "Diameter (μm)", "titleFontSize": 35, "titleAnchor": "end", "titleAlign": "right", "titleBaseline": "middle", "titleX": 936, "titleY": 87}},
    "x2": {"field": "hi"},
    "y": {"field": "n", "type": "quantitative", "scale": {"domain": [0, 46], "nice": false}, "axis": {"orient": "left", "values": [0,5,10,15,20,25,30,35,40,45], "tickSize": -35, "tickWidth": 1.5, "title": "sample 6", "titleAngle": 0, "titleAlign": "right", "titleBaseline": "middle", "titleX": -10, "titleY": 29, "titleFontSize": 35}},
    "y2": {"datum": 0}}},
  {"data": {"name": "bars"}, "transform": [{"filter": "datum.s == 6"}],
   "mark": {"type": "rect", "strokeWidth": 1},
   "encoding": {
    "x": {"field": "lo", "type": "quantitative", "scale": {"domain": [0, 100], "nice": false, "zero": false}, "axis": {"orient": "bottom", "values": [0,2,4,6,8,10,12,14,16,18,20,22,24,26,28,30,32,34,36,38,40,42,44,46,48,50,52,54,56,58,60,62,64,66,68,70,72,74,76,78,80,82,84,86,88,90,92,94,96,98,100], "tickSize": -5, "title": null}},
    "x2": {"field": "hi"},
    "y": {"field": "n", "type": "quantitative", "scale": {"domain": [0, 46], "nice": false}, "axis": {"orient": "left", "values": [0,1,2,3,4,5,6,7,8,9,10,11,12,13,14,15,16,17,18,19,20,21,22,23,24,25,26,27,28,29,30,31,32,33,34,35,36,37,38,39,40,41,42,43,44,45,46], "tickSize": -18, "title": null}},
    "y2": {"datum": 0},
    "stroke": {"field": "h", "type": "nominal", "scale": {"domain": ["PI hole", "Cu hole"], "range": ["#00ff00", "#ff0000"]}, "legend": null},
    "color": {"field": "h", "type": "nominal", "scale": {"domain": ["PI hole", "Cu hole"], "range": ["#00ff00", "#ff0000"]}, "legend": null}}},
  {"data": {"name": "fits"}, "transform": [{"filter": "datum.s == 6"}],
   "mark": {"type": "line", "color": "black", "strokeWidth": 4, "interpolate": "monotone"},
   "encoding": {
    "x": {"field": "d", "type": "quantitative", "scale": {"domain": [0, 100], "nice": false, "zero": false}, "axis": {"orient": "top", "values": [0,10,20,30,40,50,60,70,80,90,100], "tickSize": -9, "tickWidth": 1.5, "title": null}},
    "y": {"field": "n", "type": "quantitative", "scale": {"domain": [0, 46], "nice": false}, "axis": {"orient": "right", "values": [0,5,10,15,20,25,30,35,40,45], "tickSize": -33, "tickWidth": 1.5, "title": null}},
    "detail": {"field": "h"}}},
  {"data": {"name": "notes"}, "transform": [{"filter": "datum.s == 6 && datum.h == 'PI hole'"}],
   "mark": {"type": "text", "align": "left", "baseline": "middle", "lineBreak": "|", "lineHeight": 38},
   "encoding": {
    "x": {"datum": 3.88, "type": "quantitative", "axis": {"orient": "top", "values": [0,2,4,6,8,10,12,14,16,18,20,22,24,26,28,30,32,34,36,38,40,42,44,46,48,50,52,54,56,58,60,62,64,66,68,70,72,74,76,78,80,82,84,86,88,90,92,94,96,98,100], "tickSize": -5, "title": null}},
    "y": {"datum": 27.54, "type": "quantitative", "axis": {"orient": "right", "values": [0,1,2,3,4,5,6,7,8,9,10,11,12,13,14,15,16,17,18,19,20,21,22,23,24,25,26,27,28,29,30,31,32,33,34,35,36,37,38,39,40,41,42,43,44,45,46], "tickSize": -17, "title": null}},
    "text": {"field": "t"}}},
  {"data": {"name": "notes"}, "transform": [{"filter": "datum.s == 6 && datum.h == 'Cu hole'"}],
   "mark": {"type": "text", "align": "left", "baseline": "middle", "lineBreak": "|", "lineHeight": 38},
   "encoding": {
    "x": {"datum": 77.69, "type": "quantitative", "axis": null},
    "y": {"datum": 24.94, "type": "quantitative", "axis": null},
    "text": {"field": "t"}}}
 ]
}
]
}
